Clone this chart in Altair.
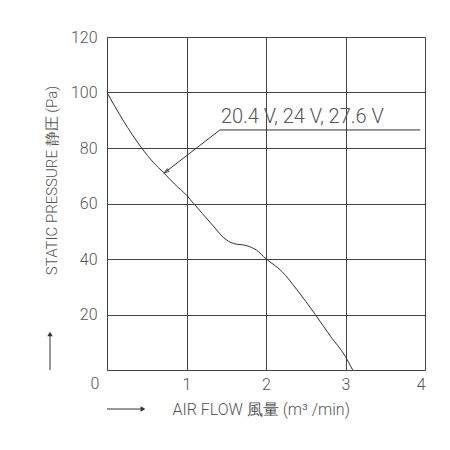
import altair as alt
import pandas as pd

# Curve
flow = [0, 0.2, 0.436, 0.583, 0.71, 0.85, 1.0, 1.09, 1.2, 1.337, 1.463, 1.589, 1.757, 1.88, 2.0, 2.2, 2.39, 2.62, 2.81, 3.0, 3.09]
pressure = [100, 90.1, 80, 74.8, 71.2, 67, 63, 60, 56.4, 51.9, 47.8, 45.6, 44.8, 43.2, 40.1, 35.5, 28.9, 20, 12.2, 4.8, 0]

# Annotation leader (data coordinates)
leader_x = [0.72, 1.42, 3.94]
leader_y = [71.0, 86.5, 86.5]
label_text = "20.4 V, 24 V, 27.6 V"

x_ticks = [0, 1, 2, 3, 4]
y_ticks = [0, 20, 40, 60, 80, 100, 120]

FONT = "Roboto"
GRAY = "#555555"

curve_df = pd.DataFrame({"flow": flow, "pressure": pressure})
leader_df = pd.DataFrame({"flow": leader_x, "pressure": leader_y, "o": [0, 1, 2]})

xs = alt.Scale(domain=[0, 4], nice=False, zero=False)
ys = alt.Scale(domain=[0, 120], nice=False, zero=False)

x_axis = alt.Axis(values=x_ticks, format="d", grid=True, gridColor="#444444", gridWidth=1,
                  tickSize=0, domain=False, labelFont=FONT, labelFontSize=16, labelFontWeight=300,
                  labelColor=GRAY, labelPadding=6,
                  labelExpr="datum.value == 0 ? '' : datum.label",
                  title="AIR FLOW 風量 (m³ /min)", titleFont=FONT, titleFontSize=16,
                  titleFontWeight=300, titleColor=GRAY, titleAnchor="start",
                  titleAlign="left", titleBaseline="middle", titleX=65, titleY=39)
y_axis = alt.Axis(values=y_ticks, grid=True, gridColor="#444444", gridWidth=1,
                  tickSize=0, domain=False, labelFont=FONT, labelFontSize=16, labelFontWeight=300,
                  labelColor=GRAY, labelPadding=10,
                  labelExpr="datum.value == 0 ? '' : datum.label",
                  title="STATIC PRESSURE 静圧 (Pa)", titleFont=FONT, titleFontSize=15,
                  titleFontWeight=300, titleColor=GRAY, titleAngle=-90,
                  titleAlign="center", titleBaseline="middle", titleX=-56, titleY=143)

curve = alt.Chart(curve_df).mark_line(color="#333333", strokeWidth=1, interpolate="monotone").encode(
    x=alt.X("flow:Q", scale=xs, axis=x_axis),
    y=alt.Y("pressure:Q", scale=ys, axis=y_axis),
)

leader = alt.Chart(leader_df).mark_line(color="#333333", strokeWidth=1).encode(
    x=alt.X("flow:Q", scale=xs), y=alt.Y("pressure:Q", scale=ys), order="o:Q"
)

arrowhead = alt.Chart(pd.DataFrame({"flow": [leader_x[0]], "pressure": [leader_y[0]]})).mark_point(
    shape="M0,0L-0.35,1L0.35,1Z", angle=234, size=90, filled=False, color="#333333", strokeWidth=1
).encode(x=alt.X("flow:Q", scale=xs), y=alt.Y("pressure:Q", scale=ys))

label = alt.Chart(pd.DataFrame({"flow": [leader_x[1]], "pressure": [leader_y[1]], "t": [label_text]})).mark_text(
    align="left", baseline="bottom", dy=-3, dx=1, font=FONT, fontSize=20, fontWeight=300, color=GRAY
).encode(x=alt.X("flow:Q", scale=xs), y=alt.Y("pressure:Q", scale=ys), text="t:N")

zero = alt.Chart(pd.DataFrame({"flow": [0], "pressure": [0], "t": ["0"]})).mark_text(
    align="center", baseline="middle", dx=-12, dy=14, font=FONT, fontSize=16, fontWeight=300, color=GRAY
).encode(x=alt.X("flow:Q", scale=xs), y=alt.Y("pressure:Q", scale=ys), text="t:N")

# Direction arrows beside the axis titles
x_arrow = alt.Chart(pd.DataFrame({"a": [0]})).mark_rule(color="#333333", strokeWidth=1).encode(
    x=alt.value(0), x2=alt.value(36), y=alt.value(372))
x_head = alt.Chart(pd.DataFrame({"a": [0]})).mark_point(
    shape="triangle-right", size=30, filled=True, color="#333333", opacity=1).encode(
    x=alt.value(36), y=alt.value(372))
y_arrow = alt.Chart(pd.DataFrame({"a": [0]})).mark_rule(color="#333333", strokeWidth=1).encode(
    x=alt.value(-57), y=alt.value(333), y2=alt.value(297))
y_head = alt.Chart(pd.DataFrame({"a": [0]})).mark_point(
    shape="triangle-up", size=30, filled=True, color="#333333", opacity=1).encode(
    x=alt.value(-57), y=alt.value(297))

chart = alt.layer(curve, leader, arrowhead, label, zero, x_arrow, x_head, y_arrow, y_head).properties(
    width=318, height=333,
    autosize=alt.AutoSizeParams(type="none"),
    padding={"left": 107, "top": 37, "right": 25, "bottom": 80},
    background="white",
).configure_view(stroke="#444444", strokeWidth=1)

chart.save("out.html", embed_options={"renderer": "svg", "actions": False})
